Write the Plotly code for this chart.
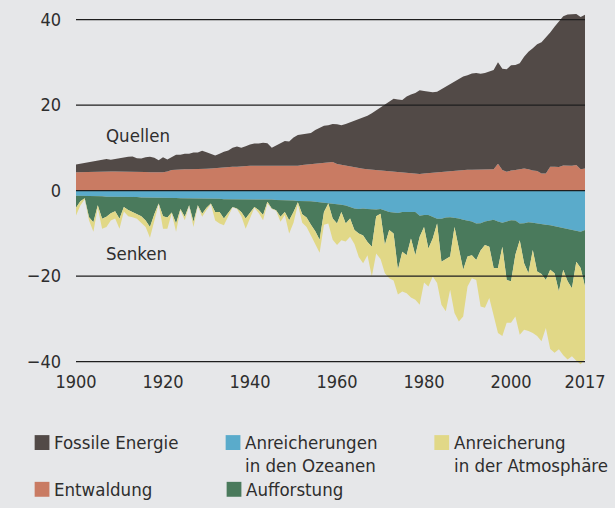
import plotly.graph_objects as go

years = list(range(1900, 2018))

fossile_energie = [
    1.8, 2.0, 2.2, 2.4, 2.45, 2.6, 2.8, 3.0, 2.75, 2.9,
    3.1, 3.2, 3.4, 3.5, 3.15, 3.1, 3.45, 3.6, 3.45, 2.9,
    3.5, 2.8, 3.0, 3.5, 3.4, 3.6, 3.6, 3.9, 3.9, 4.25,
    3.9, 3.4, 2.9, 3.2, 3.6, 3.9, 4.4, 4.7, 4.3, 4.7,
    5.0, 5.2, 5.2, 5.4, 5.3, 4.25, 4.9, 5.5, 5.9, 5.8,
    6.7, 7.2, 7.2, 7.3, 7.3, 7.9, 8.4, 8.7, 8.7, 8.9,
    9.3, 9.3, 9.8, 10.4, 11.0, 11.6, 12.1, 12.5, 13.2, 14.0,
    14.9, 15.5, 16.3, 17.1, 17.0, 17.0, 17.9, 18.5, 18.9, 19.6,
    19.3, 19.0, 18.8, 18.8, 19.3, 19.8, 20.4, 20.8, 21.4, 21.8,
    22.1, 22.5, 22.6, 22.4, 22.6, 22.9, 23.2, 23.7, 23.7, 24.0,
    24.6, 24.6, 24.8, 26.1, 27.5, 28.6, 29.6, 30.7, 31.8, 31.4,
    32.7, 34.1, 34.9, 35.4, 35.5, 35.3, 35.6, 35.9,
]

entwaldung = [
    4.3, 4.3, 4.3, 4.3, 4.35, 4.4, 4.4, 4.4, 4.45, 4.5,
    4.5, 4.5, 4.5, 4.5, 4.45, 4.4, 4.35, 4.3, 4.25, 4.2,
    4.3, 4.5, 4.8, 4.9, 5.0, 5.0, 5.0, 5.0, 5.0, 5.05,
    5.1, 5.2, 5.3, 5.4, 5.5, 5.5, 5.6, 5.6, 5.7, 5.7,
    5.8, 5.8, 5.8, 5.8, 5.8, 5.75, 5.7, 5.7, 5.7, 5.7,
    5.7, 5.8, 6.0, 6.1, 6.2, 6.3, 6.4, 6.5, 6.6, 6.7,
    6.2, 6.0, 5.8, 5.6, 5.4, 5.2, 5.1, 5.0, 4.9, 4.8,
    4.7, 4.6, 4.5, 4.4, 4.3, 4.2, 4.1, 4.0, 3.9, 3.9,
    4.0, 4.1, 4.2, 4.3, 4.4, 4.5, 4.6, 4.7, 4.8, 4.9,
    4.9, 4.9, 4.9, 4.9, 4.9, 4.9, 5.0, 6.3, 4.8, 4.4,
    4.7, 4.8, 5.0, 5.2, 5.0, 4.7, 4.6, 4.0, 4.0, 5.6,
    5.6, 5.5, 5.9, 5.8, 5.8, 6.0, 5.0, 5.2,
]

ozeane = [
    -1.2, -1.2, -1.2, -1.3, -1.3, -1.3, -1.3, -1.4, -1.4, -1.4,
    -1.4, -1.5, -1.5, -1.5, -1.5, -1.6, -1.6, -1.6, -1.6, -1.6,
    -1.7, -1.7, -1.7, -1.7, -1.8, -1.8, -1.8, -1.8, -1.9, -1.9,
    -1.9, -1.9, -1.9, -1.9, -2.0, -2.0, -2.0, -2.0, -2.0, -2.1,
    -2.1, -2.1, -2.1, -2.1, -2.1, -2.1, -2.2, -2.2, -2.2, -2.3,
    -2.3, -2.4, -2.4, -2.5, -2.5, -2.6, -2.7, -2.8, -2.9, -3.0,
    -3.1, -3.3, -3.5, -3.8, -4.2, -4.3, -4.2, -4.3, -4.4, -4.4,
    -4.3, -4.7, -5.0, -5.1, -5.2, -5.0, -5.0, -5.1, -5.0, -5.9,
    -5.7, -5.7, -6.1, -6.6, -6.6, -6.3, -6.2, -6.3, -6.5, -6.8,
    -7.0, -7.2, -7.7, -7.6, -7.2, -7.0, -6.8, -7.2, -7.5, -7.2,
    -6.9, -7.0, -7.7, -7.6, -7.4, -7.5, -7.7, -7.9, -8.0, -8.1,
    -8.3, -8.6, -8.8, -9.0, -9.2, -9.4, -9.6, -9.2,
]

aufforstung = [
    -2.8, -1.3, -0.6, -4.9, -6.1, -2.1, -5.3, -4.7, -3.9, -3.4,
    -5.2, -2.3, -3.0, -3.5, -3.9, -4.4, -5.4, -6.9, -3.9, -1.4,
    -4.3, -4.6, -3.4, -6.0, -2.5, -4.3, -1.6, -5.5, -1.5, -3.5,
    -2.1, -1.1, -3.1, -3.1, -4.5, -3.0, -1.8, -2.2, -3.0, -4.4,
    -2.9, -1.7, -2.4, -3.6, -0.5, -2.1, -2.4, -3.9, -2.8, -4.6,
    -2.7, -0.3, -3.1, -3.8, -5.5, -6.9, -8.8, -2.2, -0.1, -3.5,
    -4.6, -1.7, -4.2, -2.7, -5.0, -5.7, -6.3, -7.7, -8.7, -1.6,
    -1.1, -8.0, -4.2, -4.9, -13.3, -9.3, -10.1, -6.1, -10.1, -4.9,
    -2.8, -7.8, -5.1, -1.1, -10.0, -9.7, -9.2, -2.2, -6.6, -11.7,
    -8.4, -7.9, -8.5, -6.4, -5.5, -6.1, -11.3, -10.9, -5.6, -13.7,
    -14.3, -8.0, -3.9, -9.4, -11.9, -6.4, -11.2, -11.6, -12.9, -10.4,
    -11.0, -15.0, -9.7, -12.2, -13.6, -7.2, -8.5, -13.2,
]

atmosphaere = [
    -1.8, -1.0, -0.2, -0.8, -2.2, -0.6, -2.3, -2.4, -1.7, -1.7,
    -2.3, -1.1, -1.5, -1.2, -1.2, -1.5, -1.5, -2.5, -1.5, -0.1,
    -2.9, -2.6, -0.2, -1.9, -0.2, -0.8, -0.2, -1.2, -0.2, -0.7,
    -0.5, -0.2, -2.0, -2.7, -1.6, -1.0, -0.1, -0.1, -1.0, -2.4,
    -1.5, -0.2, -0.7, -1.2, -0.4, -0.1, -0.1, -1.2, -0.7, -3.1,
    -2.5, -0.5, -2.0, -2.2, -2.5, -2.9, -3.0, -3.0, -4.7, -5.0,
    -5.0, -6.6, -4.2, -4.3, -3.3, -5.5, -6.5, -3.1, -7.0, -8.7,
    -10.6, -6.6, -11.3, -11.0, -5.8, -9.3, -8.9, -13.8, -10.4, -15.9,
    -13.0, -8.9, -8.9, -13.9, -10.1, -12.2, -7.8, -20.1, -17.5, -10.9,
    -7.0, -5.4, -4.7, -13.1, -14.7, -12.0, -11.3, -15.2, -20.9, -10.0,
    -9.7, -14.4, -22.1, -15.5, -13.5, -19.4, -15.1, -15.7, -11.2, -18.5,
    -18.6, -13.5, -20.0, -18.3, -15.9, -23.2, -22.5, -17.1,
]

x_tickvals = [1900, 1920, 1940, 1960, 1980, 2000, 2017]
y_tickvals = [-40, -20, 0, 20, 40]
y_ticktext = ["\u221240", "\u221220", "0", "20", "40"]

C_FOSSIL = "#524a47"
C_ENTW = "#c97b63"
C_OZEAN = "#5aabcb"
C_AUFF = "#4a7a5c"
C_ATMO = "#e1d887"
BG = "#e6e7e9"
TXT = "#2e2e2e"
FONT = "DejaVu Sans Condensed, sans-serif"
FS = 18.5

fig = go.Figure()
series = [
    ("Entwaldung", entwaldung, C_ENTW, "pos"),
    ("Fossile Energie", fossile_energie, C_FOSSIL, "pos"),
    ("Anreicherungen in den Ozeanen", ozeane, C_OZEAN, "neg"),
    ("Aufforstung", aufforstung, C_AUFF, "neg"),
    ("Anreicherung in der Atmosphäre", atmosphaere, C_ATMO, "neg"),
]
for name, vals, col, grp in series:
    fig.add_trace(go.Scatter(
        x=years, y=vals, name=name, stackgroup=grp, mode="lines",
        line=dict(width=0, color=col), fillcolor=col, showlegend=False,
        hoverinfo="x+y+name",
    ))

W, H = 615, 508
L, R, T, B = 76, 22, 9, 142
PW, PH = W - L - R, H - T - B


def px(xpix):
    return (xpix - L) / PW


def py(ypix):
    return (H - B - ypix) / PH


shapes = []
for v in y_tickvals:
    shapes.append(dict(type="line", xref="paper", yref="y", x0=0, x1=1, y0=v, y1=v,
                       line=dict(color="#1e1e1e", width=1.3), layer="above"))

annotations = [
    dict(text="Quellen", x=px(104), y=py(134), xref="paper", yref="paper",
         xanchor="left", yanchor="middle", showarrow=False, font=dict(size=FS, color=TXT, family=FONT)),
    dict(text="Senken", x=px(104), y=py(253), xref="paper", yref="paper",
         xanchor="left", yanchor="middle", showarrow=False, font=dict(size=FS, color=TXT, family=FONT)),
]

legend_items = [
    (34, 443, C_FOSSIL, ["Fossile Energie"]),
    (228, 443, C_OZEAN, ["Anreicherungen", "in den Ozeanen"]),
    (440, 443, C_ATMO, ["Anreicherung", "in der Atmosphäre"]),
    (34, 490, C_ENTW, ["Entwaldung"]),
    (229, 490, C_AUFF, ["Aufforstung"]),
]
for xs, yc, col, lines in legend_items:
    shapes.append(dict(type="rect", xref="paper", yref="paper",
                       x0=px(xs), x1=px(xs + 15), y0=py(yc - 7.5), y1=py(yc + 7.5),
                       fillcolor=col, line=dict(width=0)))
    for i, t in enumerate(lines):
        annotations.append(dict(text=t, x=px(xs + 18), y=py(yc + 23.5 * i), xref="paper", yref="paper",
                                xanchor="left", yanchor="middle", showarrow=False,
                                font=dict(size=FS, color=TXT, family=FONT)))

fig.update_layout(
    width=W, height=H,
    margin=dict(l=L, r=R, t=T, b=B),
    paper_bgcolor=BG, plot_bgcolor=BG,
    font=dict(family=FONT, size=18, color=TXT),
    xaxis=dict(range=[1900, 2017], tickvals=x_tickvals, ticktext=[str(v) for v in x_tickvals],
               showgrid=False, zeroline=False, showline=False, ticks="", ticklabelstandoff=3,
               tickfont=dict(size=18)),
    yaxis=dict(range=[-41, 42], tickvals=y_tickvals, ticktext=y_ticktext,
               showgrid=False, zeroline=False, showline=False, ticks="", ticklabelstandoff=14,
               tickfont=dict(size=18)),
    shapes=shapes, annotations=annotations, showlegend=False,
)

fig.write_html("out.html", config={"displayModeBar": False},
               post_script="document.body.style.margin='0';document.body.style.background='#e6e7e9';")
